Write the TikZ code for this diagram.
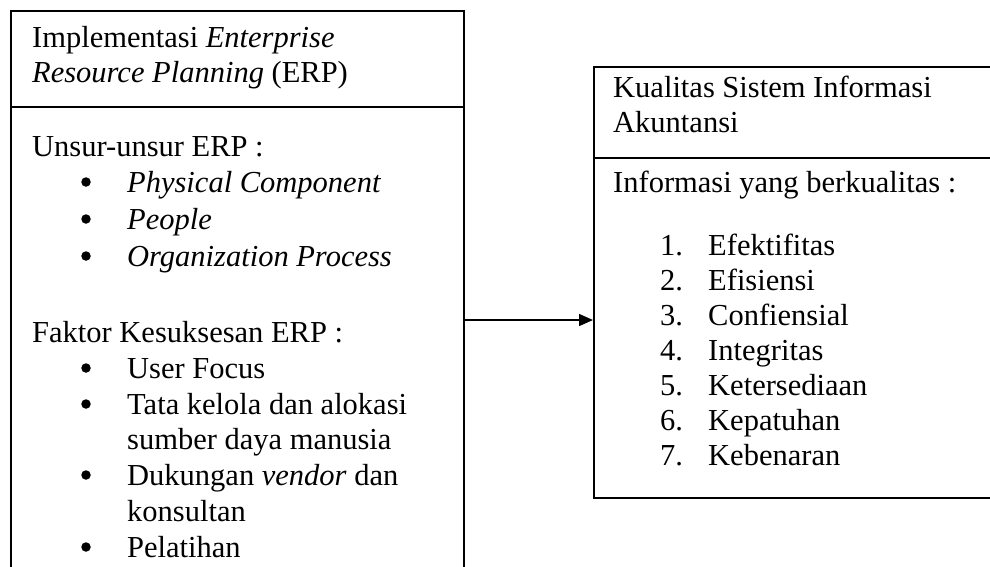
\documentclass[tikz,border=0pt]{standalone}
\usepackage{fontspec}
\setmainfont{Liberation Serif}
\usetikzlibrary{arrows.meta}
\tikzset{
  box/.style={draw, line width=1.6pt, rectangle, anchor=north west, inner sep=0pt},
  rule/.style={line width=1.4pt},
  txt/.style={anchor=base west, inner sep=0pt, font=\fontsize{30.5}{35}\selectfont},
  dot/.style={circle, fill, inner sep=0pt, minimum size=9.5pt},
  conn/.style={line width=1.4pt, -{Triangle[length=14pt,width=12pt]}}
}
\begin{document}
\begin{tikzpicture}[x=1pt,y=-1pt]
\useasboundingbox (0,0) rectangle (990,566);
\clip (0,0) rectangle (990,566);
% boxes
\node[box, minimum width=453pt, minimum height=580pt] (erp) at (10,10) {};
\node[box, minimum width=420pt, minimum height=431pt] (sia) at (593,66) {};
\draw[rule] (erp.west |- 0,107) -- (erp.east |- 0,107);
\draw[rule] (sia.west |- 0,158) -- (sia.east |- 0,158);
% left box text
\node[txt] (h1) at (32,47) {Implementasi \textit{Enterprise}};
\node[txt] (h2) at (32,82) {\textit{Resource Planning} (ERP)};
\node[txt] (u0) at (32,156) {Unsur-unsur ERP :};
\node[dot] (b1) at (86,182) {};
\node[txt] (u1) at (127,192) {\textit{Physical Component}};
\node[dot] (b2) at (86,219) {};
\node[txt] (u2) at (127,229) {\textit{People}};
\node[dot] (b3) at (86,256) {};
\node[txt] (u3) at (127,266) {\textit{Organization Process}};
\node[txt] (f0) at (32,342) {Faktor Kesuksesan ERP :};
\node[dot] (b4) at (86,368) {};
\node[txt] (f1) at (127,378) {User Focus};
\node[dot] (b5) at (86,404) {};
\node[txt] (f2) at (127,414) {Tata kelola dan alokasi};
\node[txt] (f2b) at (127,449) {sumber daya manusia};
\node[dot] (b6) at (86,475) {};
\node[txt] (f3) at (127,485) {Dukungan \textit{vendor} dan};
\node[txt] (f3b) at (127,521) {konsultan};
\node[dot] (b7) at (86,547) {};
\node[txt] (f4) at (127,557) {Pelatihan};
% right box text
\node[txt] (k1) at (613,97) {Kualitas Sistem Informasi};
\node[txt] (k2) at (613,132) {Akuntansi};
\node[txt] (i0) at (613,192) {Informasi yang berkualitas :};
\node[txt] (n1) at (660,255) {1.};
\node[txt] (t1) at (708,255) {Efektifitas};
\node[txt] (n2) at (660,290) {2.};
\node[txt] (t2) at (708,290) {Efisiensi};
\node[txt] (n3) at (660,325) {3.};
\node[txt] (t3) at (708,325) {Confiensial};
\node[txt] (n4) at (660,360) {4.};
\node[txt] (t4) at (708,360) {Integritas};
\node[txt] (n5) at (660,395) {5.};
\node[txt] (t5) at (708,395) {Ketersediaan};
\node[txt] (n6) at (660,430) {6.};
\node[txt] (t6) at (708,430) {Kepatuhan};
\node[txt] (n7) at (660,465) {7.};
\node[txt] (t7) at (708,465) {Kebenaran};
% connector
\coordinate (a) at (463,320);
\draw[conn] (a) -- (sia.west |- a);
\end{tikzpicture}
\end{document}
